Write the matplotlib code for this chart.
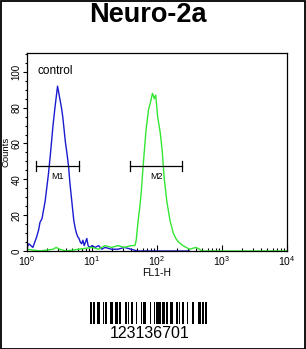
import numpy as np
import matplotlib
matplotlib.use("Agg")
import matplotlib.pyplot as plt
from matplotlib.ticker import FixedLocator, NullFormatter, LogLocator
from matplotlib.patches import Rectangle

plt.rcParams['font.family'] = ['Liberation Sans', 'DejaVu Sans']

# ---------------- data ----------------
title = "Neuro-2a"
sample_label = "control"
barcode_text = "123136701"

blue_log = [0.0, 0.03, 0.06, 0.09, 0.12, 0.15, 0.18, 0.20, 0.23, 0.25, 0.28, 0.31, 0.33,
            0.36, 0.38, 0.40, 0.43, 0.45, 0.47, 0.49, 0.51, 0.53, 0.55, 0.57, 0.59, 0.62,
            0.64, 0.66, 0.68, 0.70, 0.72, 0.74, 0.76, 0.78, 0.80, 0.82, 0.84, 0.86, 0.88,
            0.90, 0.92, 0.94, 0.97, 1.00, 1.05, 1.10, 1.15, 1.20, 1.30, 1.40, 1.50, 1.60,
            1.70, 2.50]
blue_counts = [2, 4, 3, 2, 5, 8, 12, 16, 18, 22, 28, 37, 43,
               54, 62, 70, 80, 86, 92, 88, 84, 80, 75, 68, 61, 53,
               47, 38, 31, 24, 17, 13, 10, 8, 7, 5, 4, 6, 3,
               5, 7, 3, 2, 3, 2, 3, 1, 2, 1, 1, 2, 1,
               0, 0]

green_log = [0.0, 0.2, 0.4, 0.45, 0.5, 0.6, 0.8, 1.0, 1.1, 1.2, 1.3, 1.4, 1.5, 1.6, 1.66,
             1.68, 1.71, 1.74, 1.76, 1.79, 1.83, 1.87, 1.90, 1.93, 1.96, 1.98, 2.01, 2.05,
             2.08, 2.11, 2.15, 2.20, 2.25, 2.29, 2.33, 2.40, 2.45, 2.50, 2.60, 2.70, 2.80,
             4.0]
green_counts = [1, 0, 1, 2, 1, 0, 1, 2, 1, 3, 2, 3, 2, 3, 3,
                6, 17, 26, 34, 49, 67, 79, 83, 88, 85, 87, 75, 66,
                56, 41, 28, 17, 10, 7, 5, 3, 2, 1, 2, 0, 0,
                0]

markers = ["M1", "M2"]
marker_lo = [10**0.134, 10**1.585]
marker_hi = [10**0.805, 10**2.39]
marker_y = 47.5

# ---------------- figure ----------------
W, H = 306, 349
fig = plt.figure(figsize=(W/100, H/100), dpi=100)

fig.patches.append(Rectangle((0.5/W, 0.5/H), 1-1.5/W, 1-1.5/H, transform=fig.transFigure,
                             fill=False, edgecolor='black', linewidth=1.3))

fig.text(148/W, 1-15/H, title, ha='center', va='center', fontsize=19.5, fontweight='bold')

ax = fig.add_axes([27/W, 1-251/H, (287-27)/W, (251-53)/H])
ax.set_xscale('log')
ax.set_xlim(1, 1e4)
ax.set_ylim(0, 110.5)

ax.plot([10**v for v in blue_log], blue_counts, color='#1a1ad0', lw=1.0)
ax.plot([10**v for v in green_log], green_counts, color='#33e633', lw=1.0)

for name, lo, hi in zip(markers, marker_lo, marker_hi):
    ax.plot([lo, hi], [marker_y, marker_y], color='black', lw=0.9)
    ax.plot([lo, lo], [marker_y-3, marker_y+3], color='black', lw=0.9)
    ax.plot([hi, hi], [marker_y-3, marker_y+3], color='black', lw=0.9)
    ax.text(np.sqrt(lo*hi), marker_y-3.5, name, ha='center', va='top', fontsize=6.5)

ax.text(0.04, 0.91, sample_label, transform=ax.transAxes, fontsize=8.5, ha='left', va='center')

ax.yaxis.set_major_locator(FixedLocator([0, 20, 40, 60, 80, 100]))
ax.yaxis.set_minor_locator(FixedLocator(np.arange(0, 111, 5)))
ax.tick_params(axis='y', which='major', direction='out', length=3, width=0.8, labelsize=7, pad=1)
ax.tick_params(axis='y', which='minor', direction='out', length=1.6, width=0.8)
for lbl in ax.get_yticklabels():
    lbl.set_rotation(90)
    lbl.set_va('center')
ax.xaxis.set_minor_locator(LogLocator(base=10, subs=np.arange(2, 10)))
ax.xaxis.set_minor_formatter(NullFormatter())
ax.tick_params(axis='x', which='major', direction='in', length=4, width=0.8, labelsize=7.5, pad=2)
ax.tick_params(axis='x', which='minor', direction='in', length=2.5, width=0.8)
fig.text(6/W, 1-152/H, "Counts", rotation=90, ha='center', va='center', fontsize=6.8)
ax.set_xlabel("FL1-H", fontsize=7.5, labelpad=0)
for s in ax.spines.values():
    s.set_linewidth(0.9)

# ---------------- barcode (Code 128) ----------------
C128 = ["212222","222122","222221","121223","121322","131222","122213","122312","132212","221213",
        "221312","231212","112232","122132","122231","113222","123122","123221","223211","221132",
        "221231","213212","223112","312131","311222","321122","321221","312212","322112","322211",
        "212123","212321","232121","111323","131123","131321","112313","132113","132311","211313",
        "231113","231311","112133","112331","132131","113123","113321","133121","313121","211331",
        "231131","213113","213311","213131","311123","311321","331121","312113","312311","332111",
        "314111","221411","431111","111224","111422","121124","121421","141122","141221","112214",
        "112412","122114","122411","142112","142211","241211","221114","413111","241112","134111",
        "111242","121142","121241","114212","124112","124211","411212","421112","421211","212141",
        "214121","412121","111143","111341","131141","114113","114311","411113","411311","113141",
        "114131","311141","411131","211412","211214","211232","2331112"]
codes = [105] + [int(barcode_text[i:i+2]) for i in range(0, 8, 2)] + [100, ord(barcode_text[8]) - 32]
chk = (codes[0] + sum((i) * c for i, c in enumerate(codes) if i > 0)) % 103
codes += [chk, 106]
widths = [int(d) for c in codes for d in C128[c]]
pos = 0
bar_x, bar_w = [], []
for k, w in enumerate(widths):
    if k % 2 == 0:
        bar_x.append(pos)
        bar_w.append(w)
    pos += w

bax = fig.add_axes([90/W, 1-324/H, (207-90)/W, (324-302)/H])
bax.bar(bar_x, [1]*len(bar_x), width=bar_w, align='edge', color='black', linewidth=0)
bax.set_xlim(0, pos)
bax.set_ylim(0, 1)
bax.axis('off')
fig.text(150/W, 1-334/H, barcode_text, ha='center', va='center', fontsize=11.5)

fig.savefig("out.png", dpi=100)
